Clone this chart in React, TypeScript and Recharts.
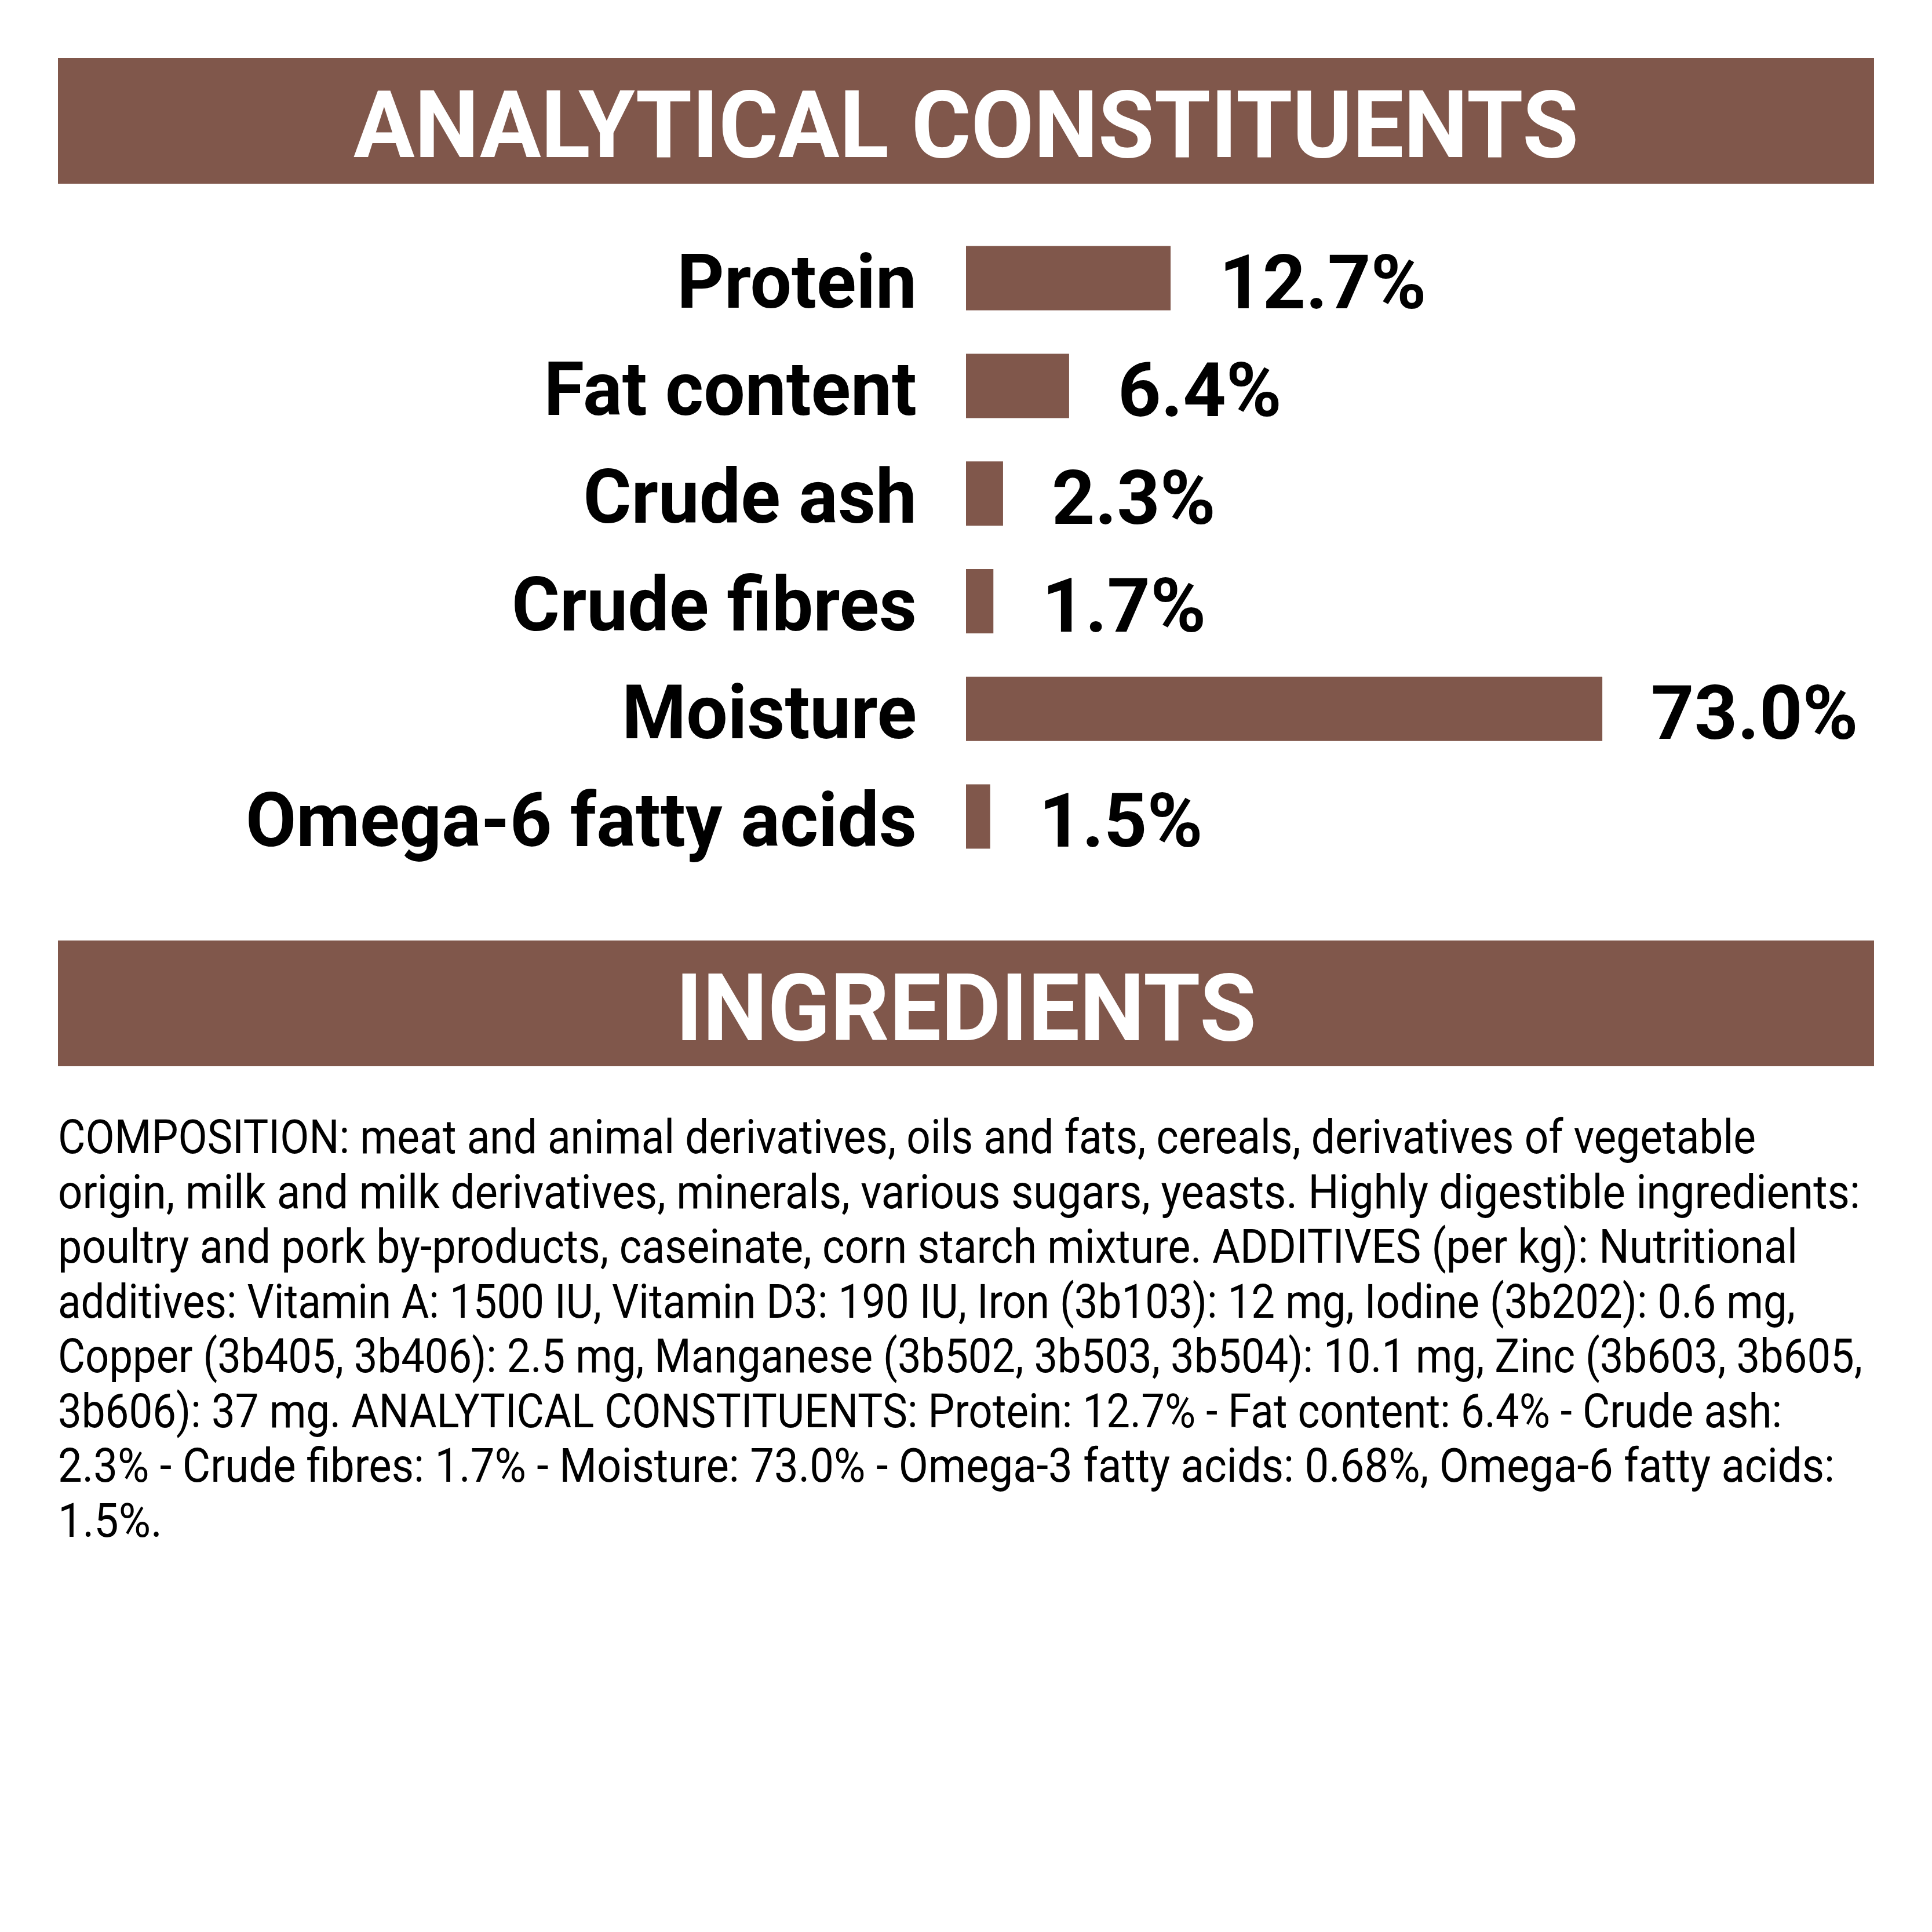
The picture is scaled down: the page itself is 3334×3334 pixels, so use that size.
import { BarChart, Bar, XAxis, YAxis, LabelList } from "recharts";

const categories = ["Protein", "Fat content", "Crude ash", "Crude fibres", "Moisture", "Omega-6 fatty acids"];
// values printed next to the bars
const printedValues = ["12.7%", "6.4%", "2.3%", "1.7%", "73.0%", "1.5%"];
// bar lengths as drawn; the moisture bar is cut short in the source (about 39.5 on the shared scale)
const barLengths = [12.7, 6.4, 2.3, 1.7, 39.5, 1.5];

const headings = ["ANALYTICAL CONSTITUENTS", "INGREDIENTS"];

const ingredientLines = [
  "COMPOSITION: meat and animal derivatives, oils and fats, cereals, derivatives of vegetable",
  "origin, milk and milk derivatives, minerals, various sugars, yeasts. Highly digestible ingredients:",
  "poultry and pork by-products, caseinate, corn starch mixture. ADDITIVES (per kg): Nutritional",
  "additives: Vitamin A: 1500 IU, Vitamin D3: 190 IU, Iron (3b103): 12 mg, Iodine (3b202): 0.6 mg,",
  "Copper (3b405, 3b406): 2.5 mg, Manganese (3b502, 3b503, 3b504): 10.1 mg, Zinc (3b603, 3b605,",
  "3b606): 37 mg. ANALYTICAL CONSTITUENTS: Protein: 12.7% - Fat content: 6.4% - Crude ash:",
  "2.3% - Crude fibres: 1.7% - Moisture: 73.0% - Omega-3 fatty acids: 0.68%, Omega-6 fatty acids:",
  "1.5%.",
];

// layout: measured widths of each text line and header boxes
const lineWidths = [2930, 3110, 3002, 2998, 3114, 2975, 3066, 180];
const headerBoxes = [
  { top: 100, height: 217, baseline: 271, textWidth: 2114 },
  { top: 1623, height: 217, baseline: 1795, textWidth: 1002 },
];

const BROWN = "#80574b";
const FONT = "Roboto, 'Open Sans', sans-serif";
// body text is drawn smaller and stretched upright so it keeps the narrow DIN look
const BODY_SIZE = 68;
const BODY_STRETCH = 82 / 68;

const data = categories.map((name, i) => ({
  name,
  bar: barLengths[i],
  label: printedValues[i],
}));

const CategoryTick = (props: any) => {
  const { x, y, payload } = props;
  return (
    <text
      transform={`translate(${x},${Number(y) + 50}) scale(0.975,1)`}
      textAnchor="end"
      fontFamily={FONT}
      fontWeight={700}
      fontSize={130}
      fill="#000"
    >
      {payload.value}
    </text>
  );
};

const ValueLabel = (props: any) => {
  const { x, y, width, height, value } = props;
  return (
    <text
      x={Number(x) + Number(width) + 84}
      y={Number(y) + Number(height) / 2 + 52}
      textAnchor="start"
      fontFamily={FONT}
      fontWeight={700}
      fontSize={130}
      fill="#000"
    >
      {value}
    </text>
  );
};

export default function App() {
  return (
    <div style={{ position: "absolute", left: 0, top: 0, width: 3334, height: 3334, background: "#fff" }}>
      <svg width={3334} height={3334} style={{ position: "absolute", left: 0, top: 0 }}>
        {headerBoxes.map((h, i) => (
          <g key={headings[i]}>
            <rect x={100} y={h.top} width={3134} height={h.height} fill={BROWN} />
            <text
              x={1667}
              y={h.baseline}
              textAnchor="middle"
              fontFamily={FONT}
              fontWeight={700}
              fontSize={162}
              fill="#fff"
              textLength={h.textWidth}
              lengthAdjust="spacingAndGlyphs"
            >
              {headings[i]}
            </text>
          </g>
        ))}
        {ingredientLines.map((line, i) => (
          <text
            key={i}
            transform={`translate(100,${1990 + i * 94.5}) scale(1,${BODY_STRETCH})`}
            x={0}
            y={0}
            fontFamily={FONT}
            fontSize={BODY_SIZE}
            fill="#000"
            textLength={lineWidths[i]}
            lengthAdjust="spacingAndGlyphs"
          >
            {line}
          </text>
        ))}
      </svg>
      <div style={{ position: "absolute", left: 0, top: 0 }}>
        <BarChart
          width={3334}
          height={1600}
          data={data}
          layout="vertical"
          margin={{ top: 387.6, right: 277, bottom: 97.6, left: 0 }}
        >
          <XAxis type="number" domain={[0, 50]} hide />
          <YAxis
            type="category"
            dataKey="name"
            width={1667}
            axisLine={false}
            tickLine={false}
            tickSize={0}
            tickMargin={85}
            tick={<CategoryTick />}
            interval={0}
          />
          <Bar dataKey="bar" fill={BROWN} barSize={111} isAnimationActive={false}>
            <LabelList dataKey="label" content={<ValueLabel />} />
          </Bar>
        </BarChart>
      </div>
    </div>
  );
}
